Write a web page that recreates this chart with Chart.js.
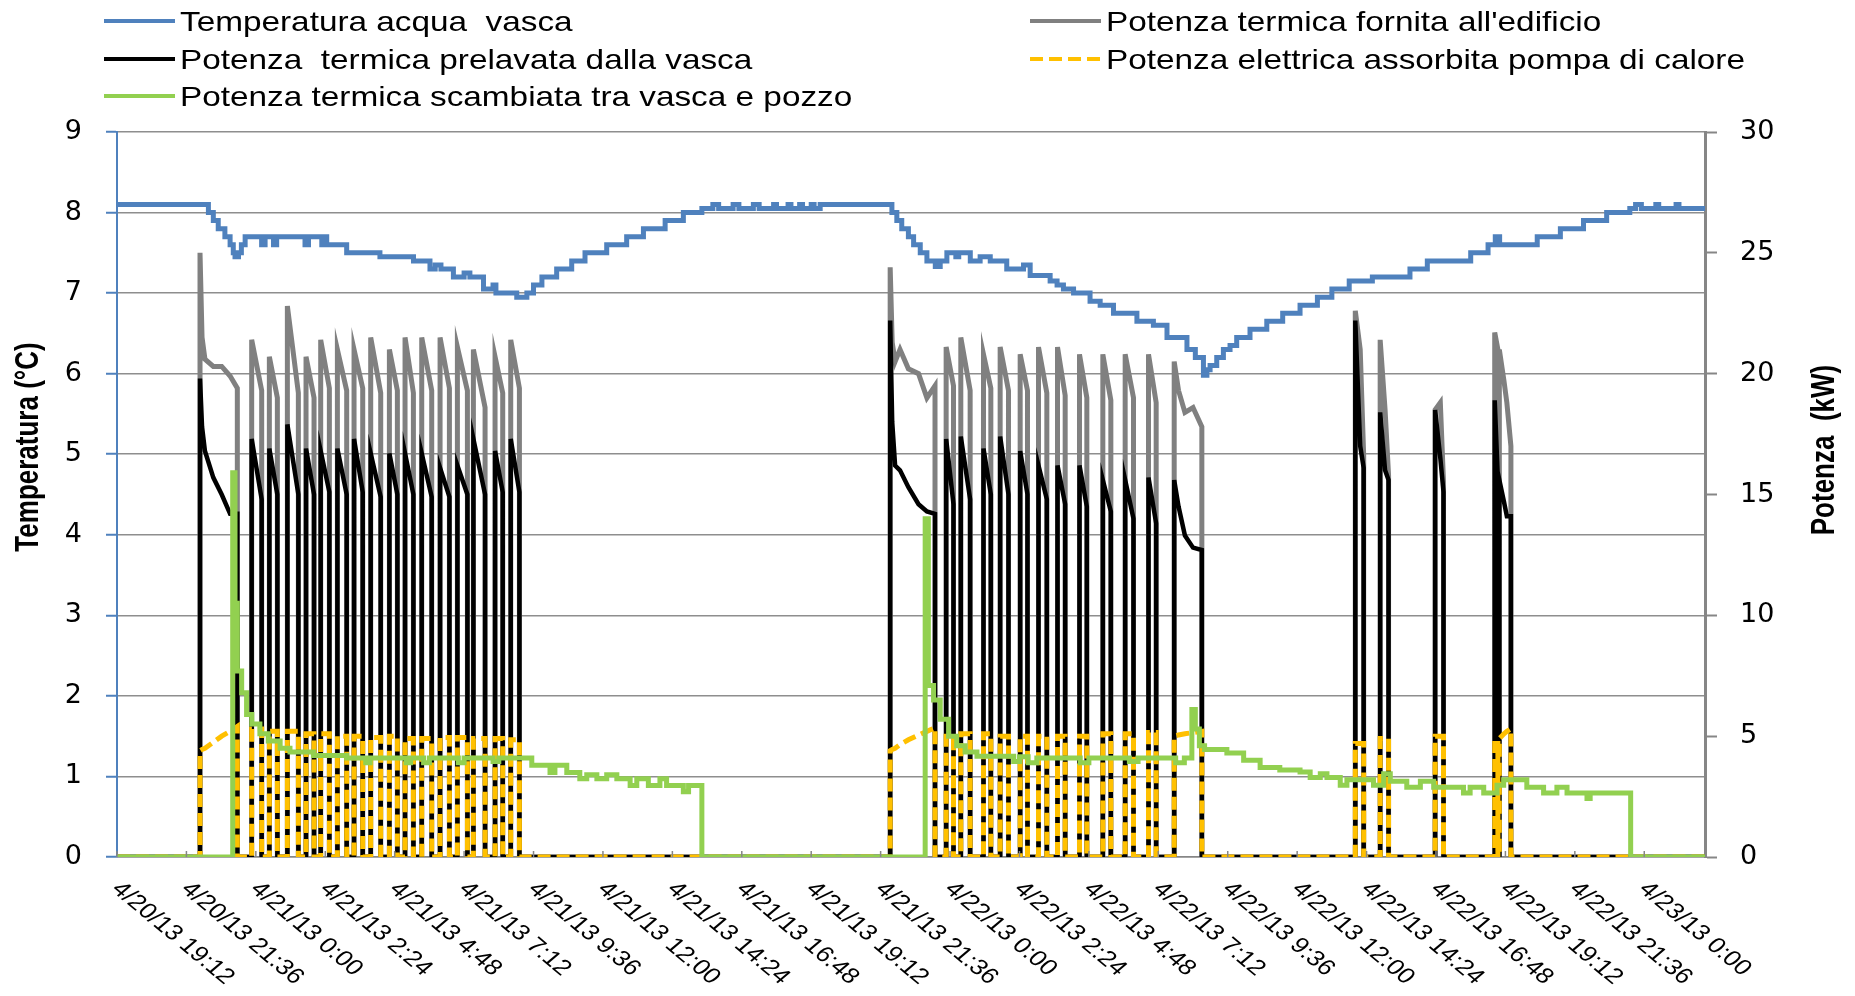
<!DOCTYPE html>
<html lang="it">
<head>
<meta charset="utf-8">
<title>Vasca e pompa di calore</title>
<script src="https://cdn.jsdelivr.net/npm/chart.js@4.4.1/dist/chart.umd.min.js"></script>
<style>
  html, body { margin: 0; padding: 0; background: #fff; }
  #box { width: 1855px; height: 996px; position: relative; }
</style>
</head>
<body>
<div id="box"><canvas id="grafico"></canvas></div>
<script>
// etichette dell'asse x: una ogni 2,4 ore a partire dal 20/4 19:12
const etichetteX = [
  "4/20/13 19:12", "4/20/13 21:36", "4/21/13 0:00", "4/21/13 2:24", "4/21/13 4:48",
  "4/21/13 7:12", "4/21/13 9:36", "4/21/13 12:00", "4/21/13 14:24", "4/21/13 16:48",
  "4/21/13 19:12", "4/21/13 21:36", "4/22/13 0:00", "4/22/13 2:24", "4/22/13 4:48",
  "4/22/13 7:12", "4/22/13 9:36", "4/22/13 12:00", "4/22/13 14:24", "4/22/13 16:48",
  "4/22/13 19:12", "4/22/13 21:36", "4/23/13 0:00"
];
const passoOre = 2.4;   // ore tra due etichette
const oreMax = 54.9;    // fine asse x (ore dall'inizio)

// temperatura acqua vasca (°C) - ore dall'inizio
const oreTemp = [
  0, 3.16, 3.33, 3.50, 3.73, 3.91, 4.02, 4.08, 4.20, 4.30, 4.43, 5.00, 5.12, 5.41, 5.52,
  6.50, 6.62, 7.08, 7.20, 7.25, 7.94, 9.09, 10.25, 10.82, 11.00, 11.20, 11.63, 12.00, 12.20,
  12.67, 13.00, 13.10, 13.82, 14.17, 14.40, 14.69, 15.20, 15.72, 16.18, 16.93, 17.62, 18.20,
  18.95, 19.58, 20.22, 20.60, 20.80, 21.30, 21.50, 22.00, 22.20, 22.70, 22.80, 23.20, 23.30,
  23.60, 23.70, 24.00, 24.10, 24.31, 26.79, 26.96, 27.13, 27.36, 27.54, 27.77, 28.00, 28.29,
  28.46, 28.69, 29.00, 29.10, 29.50, 29.84, 30.19, 30.76, 31.34, 31.57, 32.26, 32.50, 32.72,
  33.07, 33.64, 33.99, 34.45, 35.26, 35.83, 36.30, 36.99, 37.28, 37.56, 37.68, 37.79, 38.02,
  38.25, 38.48, 38.71, 39.17, 39.75, 40.30, 40.90, 41.50, 42.00, 42.60, 43.40, 44.70, 45.30,
  46.80, 47.40, 47.65, 47.80, 49.10, 49.90, 50.70, 51.50, 52.30, 52.50, 52.70, 53.20, 53.30,
  53.90, 54.00, 54.90
];
const tempVasca = [
  8.1, 8.0, 7.9, 7.8, 7.7, 7.6, 7.5, 7.45, 7.5, 7.6, 7.7, 7.6, 7.7, 7.6, 7.7,
  7.6, 7.7, 7.6, 7.7, 7.6, 7.5, 7.45, 7.4, 7.3, 7.35, 7.3, 7.2, 7.25, 7.2,
  7.05, 7.1, 7.0, 6.95, 7.0, 7.1, 7.2, 7.3, 7.4, 7.5, 7.6, 7.7, 7.8,
  7.9, 8.0, 8.05, 8.1, 8.05, 8.1, 8.05, 8.1, 8.05, 8.1, 8.05, 8.1, 8.05,
  8.1, 8.05, 8.1, 8.05, 8.1, 8.0, 7.9, 7.8, 7.7, 7.6, 7.5, 7.4, 7.33,
  7.4, 7.5, 7.45, 7.5, 7.4, 7.45, 7.4, 7.3, 7.35, 7.22, 7.15, 7.1, 7.05,
  7.0, 6.9, 6.85, 6.75, 6.65, 6.6, 6.45, 6.3, 6.2, 5.98, 6.05, 6.1, 6.2,
  6.3, 6.35, 6.45, 6.55, 6.65, 6.75, 6.85, 6.95, 7.05, 7.15, 7.2, 7.3, 7.4,
  7.5, 7.6, 7.7, 7.6, 7.7, 7.8, 7.9, 8.0, 8.05, 8.1, 8.05, 8.1, 8.05,
  8.1, 8.05, 8.05
];

// potenze (kW): istanti comuni per fornita, prelavata ed elettrica
const orePotenza = [
  0,
  2.87, 2.87, 2.94, 3.04, 3.33, 3.62, 3.91, 4.16, 4.16,
  4.656, 4.656, 5.002, 5.002,
  5.267, 5.267, 5.544, 5.544,
  5.890, 5.890, 6.270, 6.270,
  6.535, 6.535, 6.812, 6.812,
  7.042, 7.042, 7.342, 7.342,
  7.619, 7.619, 7.941, 7.941,
  8.195, 8.195, 8.495, 8.495,
  8.771, 8.771, 9.117, 9.117,
  9.417, 9.417, 9.693, 9.693,
  9.958, 9.958, 10.247, 10.247,
  10.535, 10.535, 10.880, 10.880,
  11.169, 11.169, 11.492, 11.492,
  11.768, 11.768, 12.114, 12.114,
  12.321, 12.321, 12.725, 12.725,
  13.070, 13.070, 13.335, 13.335,
  13.612, 13.612, 13.912, 13.912,
  26.73, 26.73, 26.80, 26.90, 27.07, 27.36, 27.71, 28.00, 28.28, 28.28,
  28.665, 28.665, 28.919, 28.919,
  29.172, 29.172, 29.495, 29.495,
  29.956, 29.956, 30.210, 30.210,
  30.532, 30.532, 30.820, 30.820,
  31.224, 31.224, 31.477, 31.477,
  31.858, 31.858, 32.146, 32.146,
  32.515, 32.515, 32.780, 32.780,
  33.275, 33.275, 33.529, 33.529,
  34.082, 34.082, 34.359, 34.359,
  34.854, 34.854, 35.142, 35.142,
  35.661, 35.661, 35.926, 35.926,
  36.549, 36.549, 36.70, 36.92, 37.20, 37.505, 37.505,
  42.81, 42.81, 42.98, 43.10, 43.10,
  43.67, 43.67, 43.84, 43.96, 43.96,
  45.57, 45.57, 45.75, 45.86, 45.86,
  47.63, 47.63, 47.74, 47.74,
  47.79, 47.79, 47.95, 48.05, 48.19, 48.19,
  54.9
];
const potFornita = [
  0,
  0, 25.0, 21.5, 20.6, 20.3, 20.3, 19.9, 19.4, 0,
  0, 21.4, 19.3, 0,
  0, 20.7, 19.0, 0,
  0, 22.8, 19.2, 0,
  0, 20.7, 19.0, 0,
  0, 21.4, 19.4, 0,
  0, 21.0, 19.3, 0,
  0, 21.0, 19.4, 0,
  0, 21.5, 19.2, 0,
  0, 21.0, 19.3, 0,
  0, 21.5, 19.2, 0,
  0, 21.5, 19.3, 0,
  0, 21.5, 19.4, 0,
  0, 21.1, 19.3, 0,
  0, 21.0, 18.6, 0,
  0, 20.7, 19.2, 0,
  0, 21.4, 19.4, 0,
  0, 24.4, 21.3, 20.5, 21.0, 20.2, 20.0, 19.0, 19.5, 0,
  0, 21.1, 19.5, 0,
  0, 21.5, 19.3, 0,
  0, 20.8, 19.4, 0,
  0, 21.1, 19.3, 0,
  0, 20.8, 19.3, 0,
  0, 21.1, 19.2, 0,
  0, 21.1, 19.1, 0,
  0, 20.8, 19.0, 0,
  0, 20.8, 18.9, 0,
  0, 20.8, 19.0, 0,
  0, 20.8, 18.8, 0,
  0, 20.5, 19.3, 18.4, 18.6, 17.8, 0,
  0, 22.6, 21.0, 16.6, 0,
  0, 21.4, 18.5, 15.8, 0,
  0, 18.5, 18.8, 15.5, 0,
  0, 21.7, 21.0, 0,
  0, 21.0, 19.7, 18.8, 17.0, 0,
  0
];
const potPrelavata = [
  0,
  0, 19.8, 17.8, 16.8, 15.7, 15.0, 14.2, 14.2, 0,
  0, 17.3, 14.8, 0,
  0, 16.9, 15.0, 0,
  0, 17.9, 15.0, 0,
  0, 16.9, 15.0, 0,
  0, 16.8, 15.1, 0,
  0, 16.9, 15.0, 0,
  0, 17.3, 15.1, 0,
  0, 16.7, 14.9, 0,
  0, 16.7, 15.0, 0,
  0, 16.7, 15.0, 0,
  0, 16.7, 14.9, 0,
  0, 16.1, 14.9, 0,
  0, 16.2, 15.0, 0,
  0, 17.3, 15.0, 0,
  0, 16.8, 15.1, 0,
  0, 17.3, 15.1, 0,
  0, 22.2, 18.0, 16.2, 16.0, 15.3, 14.6, 14.3, 14.2, 0,
  0, 17.3, 14.6, 0,
  0, 17.4, 14.8, 0,
  0, 16.9, 15.0, 0,
  0, 17.4, 15.0, 0,
  0, 16.8, 15.0, 0,
  0, 16.2, 14.8, 0,
  0, 16.2, 14.6, 0,
  0, 16.2, 14.5, 0,
  0, 15.6, 14.3, 0,
  0, 15.6, 14.0, 0,
  0, 15.7, 13.8, 0,
  0, 15.6, 14.5, 13.3, 12.8, 12.7, 0,
  0, 22.2, 17.0, 16.1, 0,
  0, 18.4, 16.0, 15.6, 0,
  0, 18.5, 16.5, 15.1, 0,
  0, 18.9, 15.6, 0,
  0, 15.6, 14.7, 14.1, 14.1, 0,
  0
];
const potElettrica = [
  0,
  0, 4.4, 4.45, 4.5, 4.75, 5.0, 5.2, 5.4, 0,
  0, 5.3, 5.3, 0,
  0, 5.2, 5.2, 0,
  0, 5.2, 5.2, 0,
  0, 5.1, 5.1, 0,
  0, 5.1, 5.1, 0,
  0, 5.0, 5.0, 0,
  0, 5.0, 5.0, 0,
  0, 4.95, 4.95, 0,
  0, 5.0, 5.0, 0,
  0, 4.9, 4.9, 0,
  0, 4.9, 4.9, 0,
  0, 4.95, 4.95, 0,
  0, 4.95, 4.95, 0,
  0, 4.9, 4.9, 0,
  0, 4.9, 4.9, 0,
  0, 4.85, 4.85, 0,
  0, 4.4, 4.45, 4.5, 4.65, 4.85, 5.05, 5.2, 5.35, 0,
  0, 5.0, 5.0, 0,
  0, 5.1, 5.1, 0,
  0, 5.1, 5.1, 0,
  0, 5.0, 5.0, 0,
  0, 5.0, 5.0, 0,
  0, 5.0, 5.0, 0,
  0, 5.0, 5.0, 0,
  0, 5.0, 5.0, 0,
  0, 5.1, 5.1, 0,
  0, 5.1, 5.1, 0,
  0, 5.15, 5.15, 0,
  0, 5.0, 5.05, 5.1, 5.15, 5.2, 0,
  0, 4.7, 4.7, 4.7, 0,
  0, 4.9, 4.9, 4.9, 0,
  0, 5.0, 5.0, 5.0, 0,
  0, 4.7, 4.7, 0,
  0, 4.9, 5.1, 5.2, 5.3, 0,
  0
];

// potenza scambiata tra vasca e pozzo (kW), a gradini
const oreScambio = [
  0, 4.00, 4.08, 4.16, 4.31, 4.48, 4.66, 4.94, 5.23, 5.64, 5.98, 6.79, 7.94, 8.60, 8.75,
  10.00, 10.15, 10.60, 10.80, 11.80, 12.00, 13.00, 13.20, 14.34, 14.97, 15.14, 15.55, 16.00,
  16.24, 16.59, 16.93, 17.28, 17.74, 17.97, 18.37, 18.77, 19.00, 19.58, 19.76, 20.22,
  27.94, 28.05, 28.23, 28.46, 28.75, 29.03, 29.32, 29.73, 31.00, 31.20, 31.50, 31.80, 33.30,
  33.60, 35.00, 35.30, 36.60, 36.90, 37.16, 37.28, 37.42, 37.60, 38.37, 38.95, 39.52, 40.20,
  40.90, 41.25, 41.60, 41.83, 42.29, 42.52, 43.44, 43.79, 44.02, 44.59, 45.06, 45.52, 46.55,
  46.78, 47.25, 47.71, 47.94, 48.74, 49.32, 49.78, 50.13, 50.82, 50.93, 51.28, 52.33, 54.90
];
const potScambio = [
  0, 15.9, 10.5, 7.7, 6.8, 5.9, 5.5, 5.1, 4.8, 4.5, 4.35, 4.2, 4.1, 3.9, 4.1,
  3.9, 4.1, 3.9, 4.1, 3.9, 4.1, 3.95, 4.1, 3.8, 3.5, 3.8, 3.5, 3.24,
  3.4, 3.24, 3.4, 3.24, 2.96, 3.24, 2.96, 3.24, 2.96, 2.7, 2.96, 0,
  14.0, 7.1, 6.5, 5.7, 5.0, 4.6, 4.35, 4.17, 3.95, 4.15, 3.9, 4.1, 3.9,
  4.1, 3.95, 4.1, 3.9, 4.1, 6.1, 5.3, 4.6, 4.45, 4.3, 4.0, 3.7, 3.6,
  3.52, 3.29, 3.44, 3.29, 2.97, 3.2, 2.97, 3.44, 3.13, 2.89, 3.13, 2.89, 2.65,
  2.89, 2.65, 2.97, 3.2, 2.89, 2.65, 2.89, 2.65, 2.42, 2.65, 2.65, 0, 0
];

function punti(ore, valori) {
  return ore.map((h, i) => ({ x: h, y: valori[i] }));
}

// posizioni della legenda (colonna, riga) nello stesso ordine dei dataset
const postiLegenda = [[104, 21], [104, 59], [104, 96], [1030, 21], [1030, 59]];

const decorazioni = {
  id: 'decorazioni',
  afterDraw(chart) {
    const ctx = chart.ctx;
    const xs = chart.scales.x;
    const fondo = chart.chartArea.bottom;
    ctx.save();

    // tacche sull'asse x
    ctx.strokeStyle = '#868686';
    ctx.lineWidth = 1.5;
    etichetteX.forEach((t, i) => {
      const px = xs.getPixelForValue(i * passoOre);
      ctx.beginPath();
      ctx.moveTo(px, fondo);
      ctx.lineTo(px, fondo - 6);
      ctx.stroke();
    });

    // etichette inclinate
    ctx.fillStyle = '#000';
    ctx.font = '22px "Liberation Sans", Arial, sans-serif';
    ctx.textAlign = 'left';
    ctx.textBaseline = 'top';
    etichetteX.forEach((t, i) => {
      const px = xs.getPixelForValue(i * passoOre);
      ctx.save();
      ctx.translate(px + 8, fondo + 21);
      ctx.scale(1.2, 1);
      ctx.rotate(Math.PI / 4);
      ctx.fillText(t, 0, 0);
      ctx.restore();
    });

    // titoli degli assi
    ctx.font = 'bold 26px "Liberation Sans", Arial, sans-serif';
    ctx.textAlign = 'center';
    ctx.textBaseline = 'middle';
    [["Temperatura (°C)", 29, 447], ["Potenza  (kW)", 1825, 450]].forEach(([testo, x, y]) => {
      ctx.save();
      ctx.translate(x, y);
      ctx.scale(1.3, 1);
      ctx.rotate(-Math.PI / 2);
      ctx.fillText(testo, 0, 0);
      ctx.restore();
    });

    // legenda
    ctx.font = '28px "Liberation Sans", Arial, sans-serif';
    ctx.textAlign = 'left';
    ctx.textBaseline = 'alphabetic';
    chart.data.datasets.forEach((ds, i) => {
      const [x, y] = postiLegenda[i];
      ctx.strokeStyle = ds.borderColor;
      ctx.lineWidth = 4;
      ctx.setLineDash(ds.borderDash || []);
      ctx.beginPath();
      ctx.moveTo(x, y);
      ctx.lineTo(x + 71, y);
      ctx.stroke();
      ctx.setLineDash([]);
      ctx.save();
      ctx.translate(x + 76, y + 10);
      ctx.scale(1.19, 1);
      ctx.fillStyle = '#000';
      ctx.fillText(ds.label, 0, 0);
      ctx.restore();
    });
    ctx.restore();
  }
};

const fontTacche = { family: '"DejaVu Sans", sans-serif', size: 27 };

new Chart(document.getElementById('grafico'), {
  type: 'line',
  data: {
    datasets: [
      {
        label: 'Temperatura acqua  vasca',
        data: punti(oreTemp, tempVasca),
        yAxisID: 'y',
        borderColor: '#4F81BD',
        borderWidth: 5,
        stepped: true,
        order: 0
      },
      {
        label: 'Potenza  termica prelavata dalla vasca',
        data: punti(orePotenza, potPrelavata),
        yAxisID: 'y1',
        borderColor: '#000000',
        borderWidth: 4.5,
        order: 3
      },
      {
        label: 'Potenza termica scambiata tra vasca e pozzo',
        data: punti(oreScambio, potScambio),
        yAxisID: 'y1',
        borderColor: '#92D050',
        borderWidth: 5,
        stepped: true,
        order: 1
      },
      {
        label: "Potenza termica fornita all'edificio",
        data: punti(orePotenza, potFornita),
        yAxisID: 'y1',
        borderColor: '#808080',
        borderWidth: 5,
        order: 4
      },
      {
        label: 'Potenza elettrica assorbita pompa di calore',
        data: punti(orePotenza, potElettrica),
        yAxisID: 'y1',
        borderColor: '#FFC000',
        borderWidth: 5,
        borderDash: [13, 6],
        order: 2
      }
    ]
  },
  options: {
    responsive: true,
    maintainAspectRatio: false,
    animation: false,
    events: [],
    elements: { point: { radius: 0 }, line: { tension: 0, fill: false } },
    layout: { padding: { top: 132, left: 0, right: 0, bottom: 0 } },
    scales: {
      x: {
        type: 'linear',
        min: 0,
        max: oreMax,
        ticks: { display: false },
        grid: { display: false, drawTicks: false },
        border: { display: true, color: '#868686', width: 1.5 },
        afterFit: s => { s.height = 139; }
      },
      y: {
        position: 'left',
        min: 0,
        max: 9,
        ticks: { stepSize: 1, font: fontTacche, color: '#000', padding: 24 },
        grid: { color: '#8e8e8e', lineWidth: 1.5, tickLength: 11, tickColor: '#4F81BD', tickWidth: 2 },
        border: { color: '#4F81BD', width: 2 },
        afterFit: s => { s.width = 117; }
      },
      y1: {
        position: 'right',
        min: 0,
        max: 30,
        ticks: { stepSize: 5, font: fontTacche, color: '#000', padding: 23 },
        grid: { drawOnChartArea: false, tickLength: 12, tickColor: '#868686', tickWidth: 2 },
        border: { color: '#868686', width: 3 },
        afterFit: s => { s.width = 150; }
      }
    },
    plugins: {
      legend: { display: false },
      tooltip: { enabled: false }
    }
  },
  plugins: [decorazioni]
});
</script>
</body>
</html>
